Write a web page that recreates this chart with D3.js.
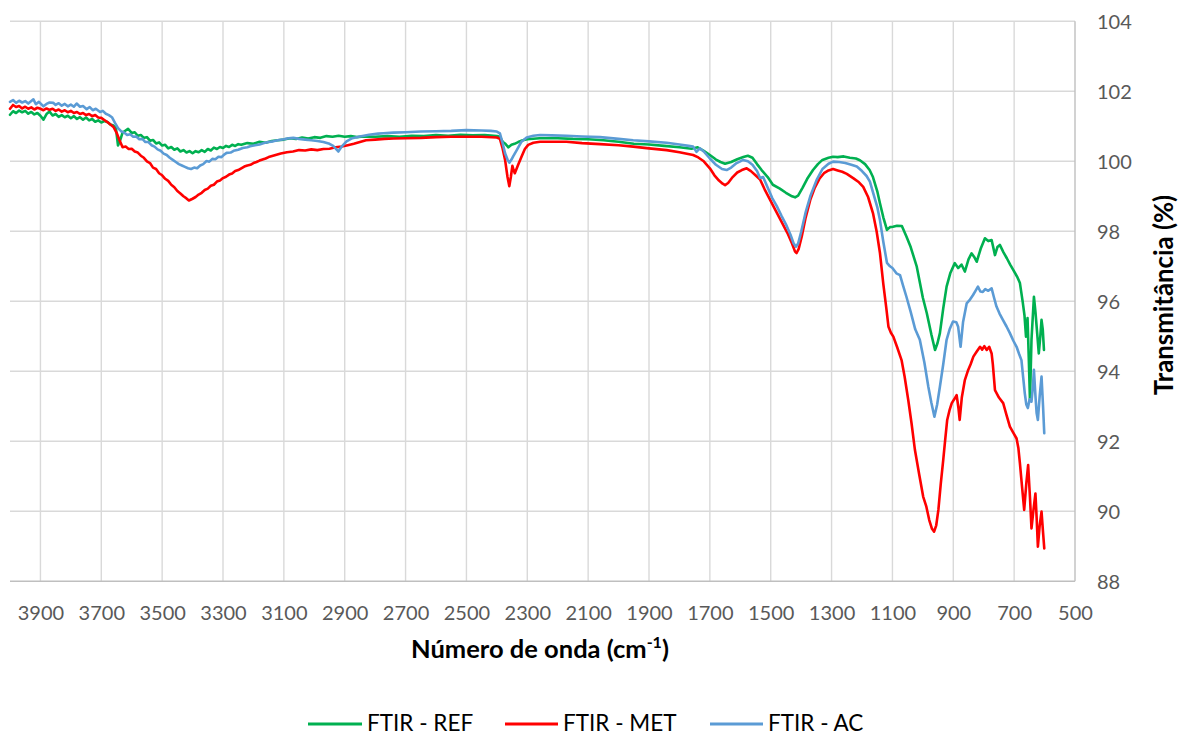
<!DOCTYPE html>
<html>
<head>
<meta charset="utf-8">
<script src="https://cdn.jsdelivr.net/npm/d3@7"></script>
<style>
  html, body { margin: 0; padding: 0; background: #ffffff; }
  svg { display: block; font-family: Lato, "Open Sans", sans-serif; }
</style>
</head>
<body>
<svg id="chart" width="1183" height="735"></svg>
<script>
// FTIR spectra: [wavenumber (cm-1), transmittance (%)]
const seriesNames = ["FTIR - REF", "FTIR - MET", "FTIR - AC"];
const seriesColors = ["#00b050", "#ff0000", "#5b9bd5"];

const xTicks = [3900, 3700, 3500, 3300, 3100, 2900, 2700, 2500, 2300, 2100, 1900, 1700, 1500, 1300, 1100, 900, 700, 500];
const yTicks = [88, 90, 92, 94, 96, 98, 100, 102, 104];

const ftirRef = [
  [4000,101.33],[3990,101.43],[3980,101.38],[3970,101.45],[3960,101.40],[3950,101.44],[3940,101.36],[3930,101.41],
  [3920,101.34],[3910,101.38],[3900,101.30],[3890,101.19],[3880,101.35],[3870,101.42],[3860,101.31],[3850,101.35],
  [3840,101.27],[3830,101.32],[3820,101.26],[3810,101.30],[3800,101.23],[3790,101.29],[3780,101.21],[3770,101.26],
  [3760,101.19],[3750,101.25],[3740,101.17],[3730,101.21],[3720,101.13],[3710,101.17],[3700,101.11],[3690,101.15],
  [3680,101.12],[3670,101.05],[3660,101.02],[3652,100.95],[3645,100.45],[3638,100.60],[3630,100.82],[3620,100.88],
  [3612,100.93],[3600,100.81],[3590,100.83],[3580,100.73],[3570,100.75],[3560,100.67],[3550,100.69],[3540,100.59],
  [3530,100.61],[3520,100.51],[3510,100.54],[3500,100.45],[3490,100.47],[3480,100.37],[3470,100.41],[3460,100.33],
  [3450,100.37],[3440,100.28],[3430,100.32],[3420,100.25],[3410,100.29],[3400,100.23],[3390,100.29],[3380,100.26],
  [3370,100.32],[3360,100.27],[3350,100.35],[3340,100.31],[3330,100.39],[3320,100.35],[3310,100.41],[3300,100.38],
  [3290,100.44],[3280,100.41],[3270,100.47],[3260,100.44],[3250,100.49],[3240,100.47],[3220,100.52],[3200,100.50],
  [3180,100.56],[3160,100.53],[3140,100.58],[3120,100.60],[3100,100.62],[3080,100.66],[3060,100.64],[3040,100.68],
  [3020,100.65],[3000,100.69],[2980,100.67],[2960,100.72],[2940,100.70],[2920,100.73],[2900,100.70],[2880,100.72],
  [2860,100.69],[2840,100.71],[2800,100.70],[2760,100.72],[2720,100.70],[2680,100.73],[2640,100.72],[2600,100.75],
  [2560,100.73],[2520,100.76],[2480,100.74],[2440,100.75],[2400,100.72],[2390,100.70],[2380,100.55],[2372,100.50],
  [2362,100.40],[2352,100.47],[2342,100.50],[2330,100.55],[2315,100.60],[2300,100.63],[2260,100.66],[2200,100.66],
  [2150,100.64],[2100,100.63],[2050,100.60],[2000,100.56],[1950,100.50],[1900,100.48],[1850,100.44],[1800,100.40],
  [1760,100.36],[1740,100.40],[1720,100.30],[1700,100.18],[1680,100.05],[1665,99.98],[1650,99.93],[1630,99.98],
  [1610,100.06],[1590,100.12],[1575,100.16],[1560,100.10],[1545,99.92],[1530,99.75],[1510,99.55],[1493,99.33],
  [1470,99.22],[1450,99.10],[1430,99.00],[1420,98.97],[1410,99.02],[1395,99.25],[1380,99.50],[1361,99.75],
  [1345,99.92],[1330,100.04],[1310,100.10],[1295,100.13],[1280,100.12],[1260,100.14],[1240,100.10],[1220,100.08],
  [1207,100.03],[1190,99.92],[1175,99.75],[1164,99.55],[1150,99.15],[1141,98.80],[1130,98.40],[1118,98.04],
  [1108,98.12],[1098,98.13],[1085,98.16],[1069,98.15],[1054,97.85],[1040,97.55],[1020,96.99],[1000,96.10],
  [987,95.66],[972,95.05],[960,94.61],[952,94.80],[944,95.09],[933,95.80],[922,96.42],[910,96.80],
  [895,97.09],[884,96.95],[873,97.05],[862,96.85],[850,97.20],[840,97.37],[830,97.25],[823,97.13],
  [810,97.50],[796,97.80],[785,97.72],[774,97.75],[763,97.32],[755,97.55],[747,97.61],[735,97.40],
  [724,97.23],[713,97.05],[703,96.90],[690,96.70],[681,96.52],[672,95.99],[666,95.60],[661,94.99],
  [656,95.52],[652,94.40],[648,93.18],[645,94.20],[643,94.90],[635,96.13],[630,95.70],[626,95.27],
  [619,94.51],[614,95.00],[610,95.47],[606,95.20],[602,94.61]
];

const ftirMet = [
  [4000,101.50],[3990,101.61],[3980,101.55],[3970,101.58],[3960,101.51],[3950,101.56],[3940,101.50],[3930,101.54],
  [3920,101.48],[3910,101.53],[3900,101.50],[3890,101.46],[3880,101.51],[3870,101.47],[3860,101.50],[3850,101.44],
  [3840,101.48],[3830,101.42],[3820,101.46],[3810,101.40],[3800,101.44],[3790,101.38],[3780,101.41],[3770,101.35],
  [3760,101.38],[3750,101.32],[3740,101.35],[3730,101.29],[3720,101.32],[3710,101.25],[3700,101.24],[3690,101.18],
  [3680,101.12],[3670,101.05],[3660,100.98],[3650,100.82],[3640,100.60],[3630,100.40],[3620,100.42],[3610,100.35],
  [3600,100.36],[3590,100.28],[3580,100.25],[3570,100.16],[3560,100.10],[3550,100.00],[3540,99.95],[3530,99.82],
  [3520,99.78],[3510,99.66],[3500,99.60],[3490,99.50],[3480,99.44],[3470,99.33],[3460,99.26],[3450,99.15],
  [3440,99.08],[3430,99.00],[3420,98.94],[3412,98.88],[3400,98.93],[3390,98.98],[3380,99.05],[3370,99.10],
  [3360,99.18],[3350,99.22],[3340,99.30],[3330,99.33],[3320,99.42],[3310,99.45],[3300,99.52],[3290,99.56],
  [3280,99.62],[3270,99.65],[3260,99.72],[3250,99.75],[3240,99.80],[3230,99.85],[3220,99.88],[3210,99.90],
  [3200,99.95],[3190,99.98],[3180,100.02],[3170,100.05],[3160,100.08],[3150,100.12],[3130,100.17],[3110,100.22],
  [3090,100.26],[3070,100.28],[3050,100.32],[3030,100.31],[3010,100.34],[2990,100.32],[2970,100.35],[2950,100.36],
  [2930,100.40],[2910,100.42],[2890,100.46],[2870,100.50],[2850,100.55],[2830,100.60],[2800,100.62],[2770,100.64],
  [2740,100.65],[2700,100.66],[2650,100.67],[2600,100.69],[2550,100.70],[2500,100.70],[2450,100.70],[2400,100.68],
  [2390,100.64],[2382,100.40],[2373,100.04],[2365,99.55],[2359,99.29],[2354,99.55],[2349,99.87],[2345,99.75],
  [2341,99.66],[2330,99.90],[2319,100.13],[2308,100.35],[2297,100.47],[2280,100.53],[2258,100.56],[2200,100.56],
  [2171,100.56],[2120,100.52],[2061,100.49],[2000,100.46],[1952,100.42],[1900,100.37],[1842,100.32],[1800,100.26],
  [1755,100.18],[1738,100.11],[1720,100.00],[1700,99.80],[1685,99.60],[1670,99.45],[1658,99.36],[1650,99.32],
  [1640,99.38],[1625,99.55],[1610,99.68],[1595,99.75],[1579,99.80],[1565,99.72],[1550,99.60],[1535,99.48],
  [1520,99.20],[1505,98.95],[1490,98.70],[1475,98.45],[1460,98.20],[1445,97.95],[1430,97.65],[1420,97.42],
  [1415,97.38],[1408,97.50],[1398,97.85],[1385,98.40],[1370,98.90],[1355,99.25],[1340,99.50],[1325,99.66],
  [1310,99.74],[1295,99.78],[1280,99.74],[1265,99.70],[1250,99.64],[1229,99.52],[1210,99.40],[1196,99.27],
  [1180,98.98],[1164,98.52],[1152,98.00],[1141,97.38],[1130,96.50],[1120,95.80],[1113,95.27],[1105,95.10],
  [1097,94.99],[1085,94.70],[1070,94.32],[1060,93.85],[1048,93.18],[1037,92.50],[1026,91.75],[1012,91.05],
  [999,90.42],[989,90.15],[979,89.75],[970,89.50],[963,89.42],[956,89.60],[949,90.04],[941,90.80],
  [933,91.47],[926,92.10],[920,92.61],[912,92.90],[905,93.09],[897,93.20],[889,93.32],[883,92.95],
  [879,92.61],[872,93.25],[862,93.75],[851,94.04],[843,94.20],[834,94.42],[824,94.55],[812,94.70],
  [805,94.62],[798,94.72],[790,94.61],[782,94.70],[774,94.51],[770,94.20],[763,93.46],[750,93.25],
  [736,93.09],[725,92.75],[714,92.42],[703,92.25],[692,92.08],[686,91.80],[681,91.37],[674,90.70],
  [667,90.04],[660,90.80],[654,91.32],[648,90.40],[643,89.51],[637,90.00],[630,90.51],[626,89.80],
  [622,88.99],[616,89.60],[610,89.99],[605,89.40],[601,88.94]
];

const ftirAc = [
  [4000,101.70],[3990,101.75],[3980,101.67],[3970,101.73],[3960,101.68],[3950,101.72],[3940,101.65],[3930,101.72],
  [3923,101.77],[3915,101.63],[3905,101.70],[3890,101.57],[3880,101.64],[3870,101.68],[3858,101.67],[3850,101.61],
  [3840,101.66],[3830,101.59],[3820,101.64],[3810,101.57],[3800,101.62],[3790,101.56],[3781,101.65],[3770,101.56],
  [3760,101.58],[3748,101.49],[3738,101.55],[3728,101.46],[3718,101.50],[3704,101.41],[3695,101.44],[3685,101.36],
  [3675,101.32],[3665,101.26],[3655,101.10],[3645,100.95],[3635,100.86],[3625,100.82],[3615,100.75],[3605,100.77],
  [3595,100.70],[3585,100.71],[3575,100.63],[3565,100.64],[3555,100.55],[3545,100.55],[3535,100.46],[3525,100.42],
  [3515,100.34],[3505,100.30],[3495,100.22],[3485,100.18],[3475,100.10],[3465,100.04],[3455,99.98],[3445,99.92],
  [3435,99.88],[3425,99.84],[3415,99.80],[3405,99.78],[3395,99.82],[3385,99.80],[3375,99.88],[3365,99.92],
  [3354,100.01],[3345,99.99],[3335,100.07],[3325,100.06],[3315,100.13],[3305,100.12],[3295,100.20],[3288,100.24],
  [3275,100.25],[3265,100.30],[3250,100.33],[3235,100.38],[3220,100.40],[3211,100.43],[3195,100.46],[3180,100.48],
  [3165,100.52],[3150,100.55],[3135,100.57],[3120,100.60],[3100,100.63],[3085,100.66],[3069,100.67],[3050,100.64],
  [3030,100.62],[3010,100.60],[2990,100.58],[2970,100.55],[2950,100.50],[2938,100.44],[2928,100.35],[2921,100.28],
  [2910,100.42],[2894,100.57],[2875,100.66],[2850,100.71],[2820,100.76],[2790,100.79],[2773,100.80],[2740,100.82],
  [2700,100.83],[2650,100.85],[2600,100.86],[2550,100.87],[2500,100.89],[2450,100.88],[2420,100.87],[2400,100.85],
  [2390,100.80],[2382,100.55],[2373,100.23],[2365,100.05],[2359,99.96],[2352,100.05],[2346,100.15],[2336,100.30],
  [2320,100.55],[2302,100.68],[2280,100.73],[2258,100.75],[2220,100.74],[2171,100.73],[2120,100.71],[2061,100.69],
  [2000,100.64],[1952,100.60],[1900,100.57],[1842,100.53],[1800,100.48],[1770,100.44],[1755,100.42],[1744,100.27],
  [1733,100.37],[1720,100.28],[1700,100.08],[1680,99.90],[1660,99.78],[1645,99.75],[1630,99.82],[1612,99.95],
  [1600,100.00],[1591,100.04],[1575,100.00],[1560,99.90],[1545,99.72],[1535,99.52],[1525,99.55],[1510,99.25],
  [1495,98.95],[1480,98.72],[1465,98.45],[1450,98.20],[1435,97.90],[1425,97.66],[1417,97.56],[1410,97.65],
  [1400,97.98],[1385,98.55],[1370,99.00],[1349,99.47],[1330,99.78],[1310,99.93],[1295,99.99],[1275,99.98],
  [1255,99.95],[1235,99.90],[1217,99.85],[1200,99.72],[1185,99.58],[1174,99.42],[1160,99.00],[1150,98.70],
  [1141,98.32],[1130,97.70],[1118,97.10],[1108,97.00],[1100,96.95],[1087,96.80],[1075,96.75],[1065,96.45],
  [1054,96.13],[1040,95.70],[1025,95.20],[1010,94.90],[995,94.25],[982,93.56],[972,93.10],[962,92.70],
  [953,93.05],[944,93.56],[933,94.20],[922,94.90],[912,95.20],[901,95.42],[890,95.40],[884,95.27],
  [876,94.70],[868,95.40],[856,95.94],[845,96.05],[835,96.18],[827,96.30],[819,96.42],[811,96.28],
  [803,96.27],[795,96.35],[785,96.30],[774,96.37],[766,96.10],[758,95.85],[748,95.65],[737,95.47],
  [725,95.28],[714,95.09],[703,94.88],[692,94.70],[684,94.50],[676,94.32],[670,93.80],[665,93.37],
  [660,93.05],[655,92.95],[649,93.20],[643,93.13],[638,93.60],[635,94.04],[630,93.30],[626,92.80],
  [622,92.61],[616,93.30],[610,93.85],[605,93.00],[601,92.23]
];

const seriesData = [ftirRef, ftirMet, ftirAc];

const svg = d3.select("#chart");
const plot = { left: 10, right: 1075, top: 21.3, bottom: 581.3 };

// Wavenumber axis runs high to low, left to right
const x = d3.scaleLinear().domain([4000, 500]).range([plot.left, plot.right]);
const y = d3.scaleLinear().domain([88, 104]).range([plot.bottom, plot.top]);

// Grid
const grid = svg.append("g").attr("class", "grid");
grid.selectAll("line.h")
  .data(yTicks.filter(v => v > 88))
  .join("line")
  .attr("x1", plot.left).attr("x2", plot.right)
  .attr("y1", d => y(d)).attr("y2", d => y(d))
  .attr("stroke", "#d9d9d9").attr("stroke-width", 1.4);
grid.selectAll("line.v")
  .data(xTicks.filter(v => v > 500))
  .join("line")
  .attr("x1", d => x(d)).attr("x2", d => x(d))
  .attr("y1", plot.top).attr("y2", plot.bottom)
  .attr("stroke", "#d9d9d9").attr("stroke-width", 1.4);

// Axis lines
svg.append("line")
  .attr("x1", plot.left).attr("x2", plot.right)
  .attr("y1", plot.bottom).attr("y2", plot.bottom)
  .attr("stroke", "#bfbfbf").attr("stroke-width", 1.4);
svg.append("line")
  .attr("x1", plot.right).attr("x2", plot.right)
  .attr("y1", plot.top).attr("y2", plot.bottom)
  .attr("stroke", "#bfbfbf").attr("stroke-width", 1.4);

// Tick labels
const xAxis = svg.append("g")
  .attr("transform", `translate(0,${plot.bottom})`)
  .call(d3.axisBottom(x).tickValues(xTicks).tickSize(0).tickPadding(0).tickFormat(d3.format("d")));
xAxis.select(".domain").remove();
xAxis.selectAll("text")
  .attr("dy", null).attr("y", 39)
  .attr("fill", "#595959")
  .style("font-family", "Lato, 'Open Sans', sans-serif")
  .style("font-size", "20px");

const yAxis = svg.append("g")
  .attr("transform", `translate(${plot.right},0)`)
  .call(d3.axisRight(y).tickValues(yTicks).tickSize(0).tickPadding(0).tickFormat(d3.format("d")));
yAxis.select(".domain").remove();
yAxis.selectAll("text")
  .attr("x", 22).attr("dy", "0.35em")
  .attr("text-anchor", "start")
  .attr("fill", "#595959")
  .style("font-family", "Lato, 'Open Sans', sans-serif")
  .style("font-size", "20px");

// Spectra
const line = d3.line().x(d => x(d[0])).y(d => y(d[1]));
svg.append("g").selectAll("path")
  .data(seriesData)
  .join("path")
  .attr("d", line)
  .attr("fill", "none")
  .attr("stroke", (d, i) => seriesColors[i])
  .attr("stroke-width", 2.6)
  .attr("stroke-linejoin", "round")
  .attr("stroke-linecap", "round");

// Axis titles
const xTitle = svg.append("text")
  .attr("x", 540).attr("y", 658)
  .attr("text-anchor", "middle")
  .attr("fill", "#000")
  .style("font-weight", "bold")
  .style("font-size", "25.5px");
xTitle.append("tspan").text("Número de onda (cm");
xTitle.append("tspan").attr("dy", -10).style("font-size", "16px").text("-1");
xTitle.append("tspan").attr("dy", 10).text(")");

svg.append("text")
  .attr("transform", "translate(1173,295) rotate(-90)")
  .attr("text-anchor", "middle")
  .attr("fill", "#000")
  .style("font-weight", "bold")
  .style("font-size", "25.8px")
  .text("Transmitância (%)");

// Legend
const legendItems = [
  { x1: 308, x2: 362, tx: 367 },
  { x1: 505, x2: 558, tx: 563 },
  { x1: 710, x2: 763, tx: 768 }
];
const legend = svg.append("g");
legendItems.forEach((it, i) => {
  legend.append("line")
    .attr("x1", it.x1).attr("x2", it.x2)
    .attr("y1", 724).attr("y2", 724)
    .attr("stroke", seriesColors[i]).attr("stroke-width", 3);
  legend.append("text")
    .attr("x", it.tx).attr("y", 731)
    .attr("fill", "#000")
    .style("font-size", "22.5px")
    .text(seriesNames[i]);
});
</script>
</body>
</html>
